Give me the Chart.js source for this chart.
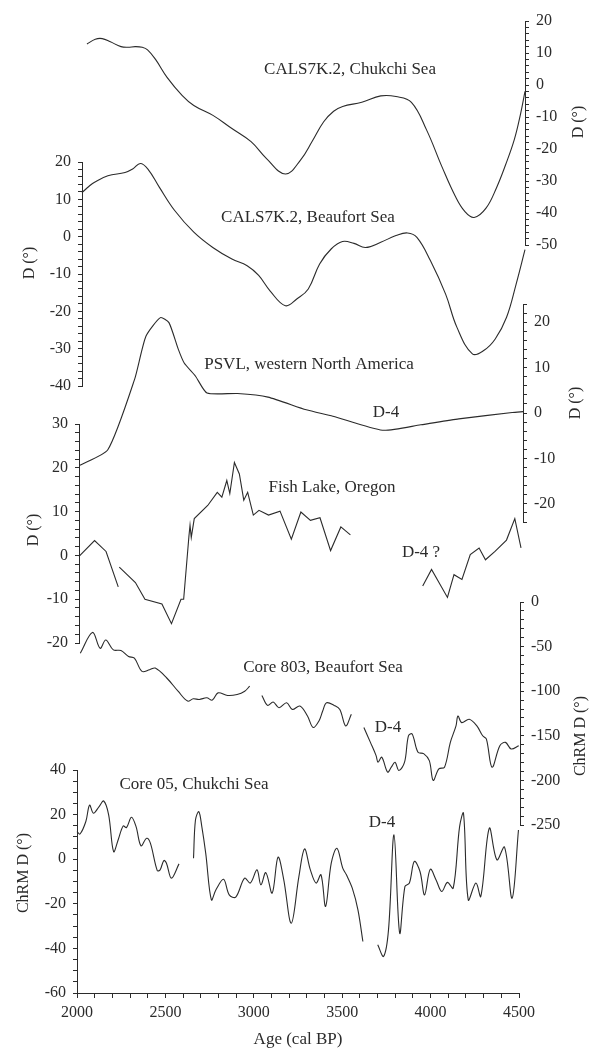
<!DOCTYPE html>
<html lang="en">
<head>
<meta charset="UTF-8">
<title>Declination records, 2000-4500 cal BP</title>
<script src="https://cdn.jsdelivr.net/npm/chart.js"></script>
<style>
  body { margin: 0; background: #fff; }
  #stack { position: relative; width: 596px; height: 1050px; }
  #stack canvas { position: absolute; left: 0; top: 0; }
</style>
</head>
<body>
<div id="stack">
  <canvas id="p1" width="596" height="1050"></canvas>
  <canvas id="p2" width="596" height="1050"></canvas>
  <canvas id="p3" width="596" height="1050"></canvas>
  <canvas id="p4" width="596" height="1050"></canvas>
  <canvas id="p5" width="596" height="1050"></canvas>
  <canvas id="p6" width="596" height="1050"></canvas>
</div>
<script>
// ---- data (age in cal BP, declination in degrees) ----
const chukchiYears = [2028, 2075, 2114, 2160, 2220, 2260, 2300, 2340, 2370, 2415, 2480, 2566, 2631, 2739, 2846, 2954, 3040, 3148, 3234, 3300, 3364, 3420, 3471, 3579, 3686, 3772, 3859, 3945, 4031, 4106, 4160, 4213, 4280, 4340, 4390, 4440, 4475, 4500];
const chukchiD = [12.8, 14.3, 14.5, 13.5, 12.0, 11.8, 12.0, 11.8, 11.0, 8.0, 2.4, -3.3, -6.4, -9.5, -13.6, -17.7, -22.9, -27.8, -23.4, -17.5, -11.5, -8.2, -6.7, -5.4, -3.4, -3.6, -5.4, -14.1, -25.5, -34.7, -39.5, -41.4, -38.5, -32, -25, -17, -9, -2];

const beaufortYears = [2000, 2040, 2071, 2146, 2243, 2286, 2329, 2372, 2437, 2523, 2631, 2738, 2846, 2932, 2997, 3061, 3148, 3212, 3277, 3341, 3406, 3470, 3535, 3600, 3686, 3772, 3837, 3890, 3966, 4052, 4116, 4203, 4267, 4332, 4396, 4450, 4500];
const beaufortD = [11.8, 13.5, 14.6, 16.3, 17.2, 18.1, 19.6, 18.1, 13.2, 7.0, 1.2, -2.9, -6.0, -7.8, -10.4, -14.5, -18.5, -16.7, -14.0, -7.3, -3.3, -1.3, -1.8, -2.9, -1.5, 0.3, 1.0, -0.2, -6.4, -15.4, -24.3, -31.4, -30.5, -27.4, -21.6, -12.7, -3.5];

const psvlYears = [2000, 2157, 2308, 2372, 2454, 2502, 2555, 2588, 2652, 2717, 2889, 3061, 3277, 3427, 3707, 3923, 4138, 4439, 4500];
const psvlD = [-11.5, -8.1, 7.4, 16.9, 21.0, 19.9, 14.0, 11.0, 8.1, 4.4, 4.3, 3.5, 0.7, -0.7, -3.8, -2.6, -1.3, 0.1, 0.3];

// null = gap in the record
const fishYears = [2000, 2088, 2153, 2222, 2225, 2228, 2319, 2373, 2469, 2523, 2577, 2592, 2622, 2628, 2635, 2652, 2728, 2782, 2808, 2836, 2853, 2879, 2907, 2932, 2954, 2986, 3018, 3072, 3137, 3201, 3255, 3309, 3363, 3423, 3481, 3535, 3700, 3944, 3994, 4084, 4121, 4166, 4213, 4263, 4299, 4353, 4418, 4465, 4500];
const fishD = [-0.2, 3.4, 0.9, -7.2, null, -2.7, -6.2, -10, -11.1, -15.6, -10, -10, 4.5, 6.9, 4.1, 8.4, 11.4, 14.4, 13.3, 17.1, 14.1, 21.2, 18.6, 12.6, 14.4, 9.2, 10.3, 9.2, 10.1, 3.7, 9.9, 8.0, 8.6, 1.1, 6.5, 4.7, null, -7.0, -3.2, -9.6, -4.4, -5.5, 0.2, 1.7, -1.0, 0.9, 3.5, 8.4, 1.7];

const core803Years = [2013, 2082, 2125, 2157, 2200, 2243, 2286, 2319, 2362, 2405, 2437, 2502, 2566, 2620, 2652, 2686, 2728, 2760, 2792, 2846, 2900, 2943, 2971, 3005, 3040, 3072, 3104, 3137, 3180, 3212, 3255, 3298, 3330, 3363, 3384, 3406, 3449, 3481, 3514, 3546, 3580, 3617, 3654, 3686, 3697, 3718, 3751, 3772, 3793, 3815, 3847, 3869, 3890, 3923, 3955, 3987, 4009, 4041, 4073, 4106, 4138, 4149, 4170, 4213, 4256, 4289, 4310, 4342, 4386, 4418, 4450, 4493];
const core803D = [-57.4, -34.1, -51.9, -42.6, -53.7, -54.4, -61.1, -63, -77.8, -75.9, -74.1, -85.2, -100, -111.1, -108.5, -109.3, -107.4, -110, -101.9, -104.8, -103.7, -100, -94.4, null, -104.8, -115.9, -112.2, -118.5, -113, -120.4, -116.7, -127.8, -140.7, -133.3, -122.2, -113, -115.9, -120.4, -138.9, -125.9, null, -140.7, -157.4, -172.2, -179.6, -174, -190.7, -185.2, -179.6, -188.9, -179.6, -150, -148, -168.5, -170, -177.8, -200, -187, -185.2, -157.4, -138.9, -127.8, -135.2, -131.5, -138.9, -150, -153.7, -185.2, -161.1, -157.4, -164.8, -161.1];

const core05Years = [2000, 2017, 2050, 2071, 2093, 2125, 2151, 2179, 2207, 2233, 2261, 2280, 2308, 2334, 2362, 2394, 2415, 2454, 2470, 2491, 2506, 2534, 2577, 2620, 2659, 2670, 2689, 2706, 2728, 2760, 2786, 2829, 2861, 2898, 2948, 2980, 3018, 3040, 3068, 3104, 3137, 3169, 3212, 3255, 3287, 3320, 3352, 3380, 3406, 3438, 3470, 3503, 3524, 3557, 3589, 3617, 3660, 3701, 3734, 3762, 3793, 3825, 3855, 3880, 3908, 3940, 3966, 3998, 4031, 4063, 4095, 4128, 4164, 4186, 4213, 4256, 4284, 4332, 4375, 4418, 4461, 4497];
const core05D = [12.4, 11.3, 16.9, 24.3, 20.6, 23.6, 26.1, 19.9, 3.4, 8.7, 14.9, 14.2, 18.8, 14.6, 6.0, 9.4, 7.2, -5.1, -4.8, -0.6, -1.8, -8.5, -2.1, null, 0.4, 17.6, 21.3, 14.6, 2.7, -18.2, -13.7, -9.0, -16.0, -17.0, -8.5, -10.7, -4.8, -11.5, -6.0, -15.2, 0.9, -9.0, -28.7, -7.8, 4.6, -4.8, -10.7, -7.0, -21.2, -1.8, 4.9, -4.0, -7.0, -13.0, -22.7, -36.9, null, -38.4, -43.6, -31.6, 10.9, -33.1, -12.2, -10.7, -1.0, -5.5, -16.0, -4.5, -9.3, -14.5, -10.4, -13.0, 14.6, 20.6, -18.2, -10.7, -16.7, 13.9, -0.3, 5.4, -17.5, 13.1];

const ageTicks = [2000, 2500, 3000, 3500, 4000, 4500];

// ---- styling ----
const INK = '#2b2b2b';
const SERIF = "'Liberation Serif', 'DejaVu Serif', serif";
const W = 596, H = 1050, AXIS_W = 40, X_AXIS_H = 57;

// free text on the figure (pixel positions)
const notes = [
  { text: 'CALS7K.2, Chukchi Sea', x: 350, y: 70 },
  { text: 'CALS7K.2, Beaufort Sea', x: 308, y: 218 },
  { text: 'PSVL, western North America', x: 309, y: 365 },
  { text: 'D-4', x: 386, y: 413 },
  { text: 'Fish Lake, Oregon', x: 332, y: 488 },
  { text: 'D-4 ?', x: 421, y: 553 },
  { text: 'Core 803, Beaufort Sea', x: 323, y: 668 },
  { text: 'D-4', x: 388, y: 728 },
  { text: 'Core 05, Chukchi Sea', x: 194, y: 785 },
  { text: 'D-4', x: 382, y: 823 }
];
const axisTitles = [
  { text: 'D (°)', x: 579, y: 122 },
  { text: 'D (°)', x: 30, y: 263 },
  { text: 'D (°)', x: 576, y: 403 },
  { text: 'D (°)', x: 34, y: 530 },
  { text: 'ChRM D (°)', x: 581, y: 736 },
  { text: 'ChRM D (°)', x: 24, y: 873 }
];

const textPlugin = {
  id: 'figureText',
  afterDraw(chart) {
    const ctx = chart.ctx;
    ctx.save();
    ctx.fillStyle = INK;
    ctx.textAlign = 'center';
    ctx.textBaseline = 'middle';
    ctx.font = '17px ' + SERIF;
    notes.forEach(n => ctx.fillText(n.text, n.x, n.y));
    ctx.font = '16px ' + SERIF;
    axisTitles.forEach(t => {
      ctx.save();
      ctx.translate(t.x, t.y);
      ctx.rotate(-Math.PI / 2);
      ctx.fillText(t.text, 0, 0);
      ctx.restore();
    });
    ctx.restore();
  }
};

function pts(xs, ys) {
  return xs.map((x, i) => ({ x: x, y: ys[i] }));
}

function panel(id, p) {
  const xH = p.showX ? X_AXIS_H : 0;
  const padding = {
    top: p.top,
    bottom: H - p.bottom - xH,
    left: p.side === 'left' ? p.left - AXIS_W : p.left,
    right: p.side === 'right' ? W - p.right - AXIS_W : W - p.right
  };
  const ctx = document.getElementById(id).getContext('2d');
  return new Chart(ctx, {
    type: 'line',
    data: {
      datasets: [{
        data: pts(p.years, p.values),
        borderColor: INK,
        borderWidth: 1.1,
        pointRadius: 0,
        tension: p.tension,
        spanGaps: false,
        clip: false
      }]
    },
    options: {
      responsive: false,
      animation: false,
      devicePixelRatio: 1,
      layout: { padding: padding, autoPadding: false },
      plugins: { legend: { display: false }, tooltip: { enabled: false } },
      scales: {
        x: {
          type: 'linear',
          display: !!p.showX,
          min: 2000,
          max: 4500,
          afterFit: s => { if (p.showX) s.height = X_AXIS_H; },
          border: { display: true, color: INK, width: 1 },
          grid: { drawOnChartArea: false, tickLength: 5, color: INK },
          ticks: {
            stepSize: 100,
            autoSkip: false,
            maxRotation: 0,
            padding: 5,
            color: INK,
            font: { family: SERIF, size: 16 },
            callback: v => (ageTicks.includes(v) ? String(v) : '')
          },
          title: {
            display: true,
            text: 'Age (cal BP)',
            color: INK,
            font: { family: SERIF, size: 17 },
            padding: { top: 0, bottom: 0 }
          }
        },
        y: {
          type: 'linear',
          position: p.side,
          min: p.min,
          max: p.max,
          afterFit: s => { s.width = AXIS_W; },
          border: { display: true, color: INK, width: 1 },
          grid: { drawOnChartArea: false, tickLength: 4, color: INK },
          ticks: {
            stepSize: p.minor,
            autoSkip: false,
            includeBounds: false,
            padding: 7,
            color: INK,
            font: { family: SERIF, size: 16 },
            callback: v => (Math.abs(v % p.major) < 1e-6 ? String(Math.round(v)) : '')
          }
        }
      }
    },
    plugins: p.plugins || []
  });
}

panel('p1', { years: chukchiYears, values: chukchiD, side: 'right', left: 82, right: 525, top: 21, bottom: 245, min: -50, max: 20, major: 10, minor: 2, tension: 0.4 });
panel('p2', { years: beaufortYears, values: beaufortD, side: 'left', left: 82, right: 525, top: 162, bottom: 386, min: -40, max: 20, major: 10, minor: 2, tension: 0.4 });
panel('p3', { years: psvlYears, values: psvlD, side: 'right', left: 80, right: 523, top: 304, bottom: 522, min: -24, max: 24, major: 10, minor: 2, tension: 0.2 });
panel('p4', { years: fishYears, values: fishD, side: 'left', left: 79, right: 521, top: 424, bottom: 643, min: -20, max: 30, major: 10, minor: 2, tension: 0 });
panel('p5', { years: core803Years, values: core803D, side: 'right', left: 78, right: 520, top: 602, bottom: 825, min: -250, max: 0, major: 50, minor: 10, tension: 0.35 });
panel('p6', { years: core05Years, values: core05D, side: 'left', left: 77, right: 519, top: 770, bottom: 993, min: -60, max: 40, major: 20, minor: 5, tension: 0.35, showX: true, plugins: [textPlugin] });
</script>
</body>
</html>
